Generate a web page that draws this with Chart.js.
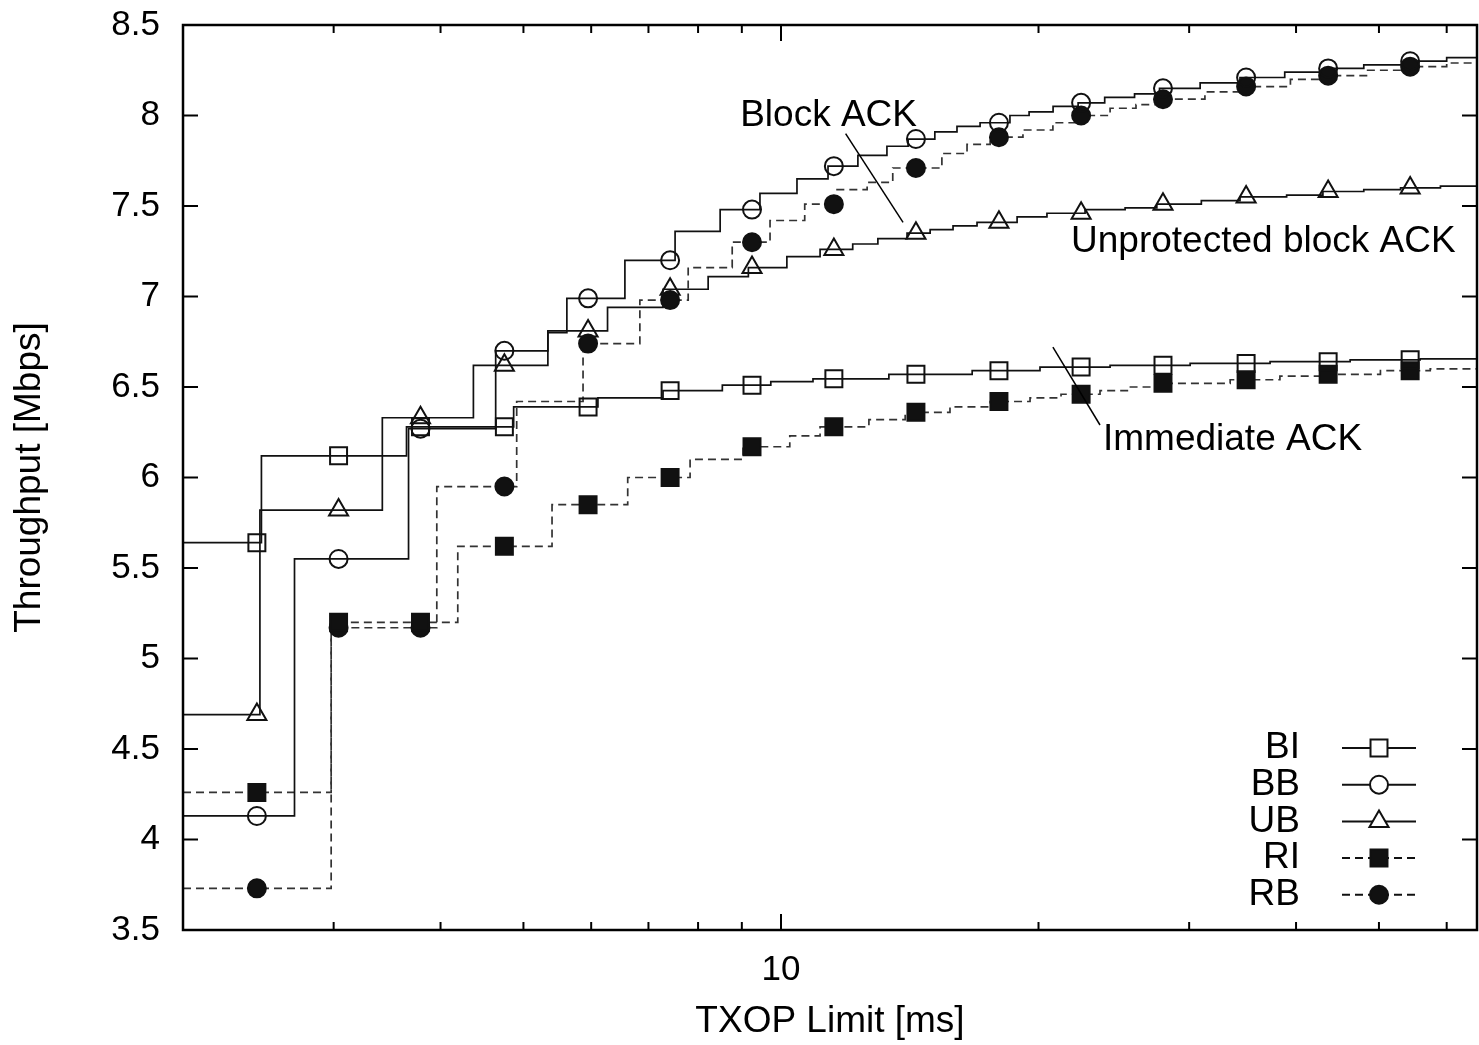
<!DOCTYPE html>
<html>
<head>
<meta charset="utf-8">
<script src="https://cdn.jsdelivr.net/npm/chart.js@4.4.0/dist/chart.umd.min.js"></script>
<style>
    html, body { margin: 0; padding: 0; background: #fff; }
    #wrap { width: 1479px; height: 1045px; }
</style>
</head>
<body>
<div id="wrap"><canvas id="chart" width="1479" height="1045"></canvas></div>
<script>
// each curve is a staircase: X = TXOP limit where a step starts [ms], Y = throughput on that step [Mbps]
var biX = [2, 2.47, 3.65, 4.87, 6.11, 7.28, 8.54, 9.73, 10.9, 13.37, 16.73, 20.08, 24.25, 30.08, 37.3, 46.27, 55.86, 65.1]
var biY = [5.64, 6.12, 6.28, 6.39, 6.44, 6.48, 6.51, 6.53, 6.545, 6.57, 6.59, 6.61, 6.62, 6.63, 6.64, 6.65, 6.655, 6.66]

var bbX = [2, 2.70, 3.67, 4.64, 5.34, 5.62, 6.57, 7.52, 8.49, 9.45, 10.44, 11.35, 12.30, 13.30, 14.08, 15.13, 16.06,
    17.09, 18.52, 19.50, 20.80, 22.25, 23.9, 25.9, 27.7, 30.9, 34.4, 38.8, 43.2, 48.0, 53.6, 60.0, 65.1]
var bbY = [4.13, 5.55, 6.27, 6.70, 6.80, 6.99, 7.20, 7.36, 7.48, 7.57, 7.65, 7.72, 7.78, 7.83, 7.87, 7.91, 7.94,
    7.96, 8.00, 8.02, 8.05, 8.07, 8.10, 8.12, 8.15, 8.18, 8.21, 8.24, 8.26, 8.28, 8.30, 8.32, 8.33]

var ubX = [2, 2.46, 3.42, 4.37, 5.34, 6.27, 7.28, 8.22, 9.16, 10.16, 11.11, 12.13, 12.98, 14.04, 14.94, 15.89,
    16.95, 18.88, 20.46, 22.67, 25.25, 27.5, 31.0, 34.4, 39.0, 43.0, 48.0, 53.0, 59.0, 65.1]
var ubY = [4.69, 5.82, 6.33, 6.62, 6.81, 6.94, 7.04, 7.11, 7.16, 7.22, 7.26, 7.29, 7.32, 7.35, 7.37, 7.39,
    7.41, 7.44, 7.46, 7.48, 7.49, 7.51, 7.53, 7.55, 7.56, 7.58, 7.59, 7.60, 7.61, 7.61]

var riX = [2, 2.98, 4.19, 5.40, 6.62, 7.83, 9.03, 10.24, 11.11, 12.67, 13.97, 15.76, 17.56, 19.55, 21.25, 23.6,
    25.5, 27.7, 33.5, 38.3, 42.7, 50.2, 57.4, 65.1]
var riY = [4.26, 5.20, 5.62, 5.85, 6.00, 6.10, 6.17, 6.23, 6.28, 6.32, 6.36, 6.39, 6.42, 6.44, 6.46, 6.48,
    6.50, 6.52, 6.54, 6.56, 6.57, 6.59, 6.60, 6.61]

var rbX = [2, 2.98, 3.96, 4.91, 5.87, 6.84, 7.79, 8.77, 9.71, 10.66, 11.63, 12.61, 13.51, 15.42, 16.50, 17.56,
    19.18, 20.79, 22.37, 24.25, 26.0, 27.7, 31.3, 34.8, 39.4, 43.2, 48.5, 53.6, 60.0, 65.1]
var rbY = [3.73, 5.17, 5.95, 6.42, 6.74, 6.98, 7.16, 7.30, 7.42, 7.51, 7.59, 7.63, 7.71, 7.79, 7.84, 7.88,
    7.92, 7.96, 8.00, 8.04, 8.06, 8.09, 8.13, 8.16, 8.20, 8.22, 8.25, 8.27, 8.29, 8.30]

// TXOP limits where the symbols sit
var markerX = [2.44, 3.04, 3.79, 4.75, 5.95, 7.42, 9.25, 11.53, 14.38, 17.98, 22.43, 27.96, 34.97, 43.61, 54.38]

var xTicks = [3, 4, 5, 6, 7, 8, 9, 10, 20, 30, 40, 50, 60]
var yTicks = [3.5, 4, 4.5, 5, 5.5, 6, 6.5, 7, 7.5, 8, 8.5]

var FONT = "'Liberation Sans', Arial, sans-serif"
var INK = '#111'

var series = [
    { name: 'BI', xs: biX, ys: biY, point: 'rect', radius: 12, filled: false, dash: [] },
    { name: 'BB', xs: bbX, ys: bbY, point: 'circle', radius: 9, filled: false, dash: [] },
    { name: 'UB', xs: ubX, ys: ubY, point: 'triangle', radius: 11, filled: false, dash: [] },
    { name: 'RI', xs: riX, ys: riY, point: 'rect', radius: 12, filled: true, dash: [8, 5] },
    { name: 'RB', xs: rbX, ys: rbY, point: 'circle', radius: 9, filled: true, dash: [8, 5] }
]

// value of a staircase at x
function stepAt(xs, ys, x) {
    var v = ys[0]
    for (var i = 0; i < xs.length; i++) {
        if (xs[i] <= x) v = ys[i]
    }
    return v
}

var markerSets = series.map(function (s) {
    return {
        label: s.name + ' symbols',
        data: markerX.map(function (x) { return { x: x, y: stepAt(s.xs, s.ys, x) } }),
        showLine: false,
        pointStyle: s.point,
        pointRadius: s.radius,
        pointBorderWidth: 2,
        pointBorderColor: INK,
        pointBackgroundColor: s.filled ? INK : 'rgba(0,0,0,0)',
        order: 1
    }
})
var lineSets = series.map(function (s) {
    return {
        label: s.name,
        data: s.xs.map(function (x, i) { return { x: x, y: s.ys[i] } }),
        stepped: 'before',
        borderColor: s.filled ? '#333' : INK,
        borderWidth: 1.7,
        borderDash: s.dash,
        pointRadius: 0,
        fill: false,
        order: 2
    }
})

// text labels with leader lines, placed in data coordinates
var notes = [
    { text: 'Block ACK', x: 8.96, y: 8.0, line: [11.9, 7.90, 13.89, 7.41] },
    { text: 'Unprotected block ACK', x: 21.83, y: 7.30 },
    { text: 'Immediate ACK', x: 23.79, y: 6.21, line: [20.79, 6.72, 23.6, 6.29] }
]

function seg(ctx, x1, y1, x2, y2) {
    ctx.beginPath()
    ctx.moveTo(x1, y1)
    ctx.lineTo(x2, y2)
    ctx.stroke()
}

var decorations = {
    id: 'decorations',
    afterDatasetsDraw: function (chart) {
        var ctx = chart.ctx
        var ca = chart.chartArea
        var sx = chart.scales.x
        var sy = chart.scales.y
        ctx.save()
        ctx.strokeStyle = '#000'
        ctx.fillStyle = '#000'

        // inward ticks on all four sides
        ctx.lineWidth = 2
        xTicks.forEach(function (v) {
            var px = sx.getPixelForValue(v)
            var len = v === 10 ? 16 : 8
            seg(ctx, px, ca.bottom, px, ca.bottom - len)
            seg(ctx, px, ca.top, px, ca.top + len)
        })
        yTicks.forEach(function (v) {
            var py = sy.getPixelForValue(v)
            seg(ctx, ca.left, py, ca.left + 15, py)
            seg(ctx, ca.right, py, ca.right - 15, py)
        })
        ctx.lineWidth = 2.5
        ctx.strokeRect(ca.left, ca.top, ca.right - ca.left, ca.bottom - ca.top)

        // annotations
        ctx.font = '37px ' + FONT
        ctx.textAlign = 'left'
        ctx.textBaseline = 'middle'
        ctx.lineWidth = 1.5
        notes.forEach(function (n) {
            ctx.fillText(n.text, sx.getPixelForValue(n.x), sy.getPixelForValue(n.y))
            if (n.line) {
                seg(ctx, sx.getPixelForValue(n.line[0]), sy.getPixelForValue(n.line[1]),
                    sx.getPixelForValue(n.line[2]), sy.getPixelForValue(n.line[3]))
            }
        })

        // key, bottom right inside the frame
        ctx.textAlign = 'right'
        series.forEach(function (s, i) {
            var y = ca.bottom - 182 + i * 36.7
            var mid = ca.right - 98
            ctx.fillStyle = '#000'
            ctx.fillText(s.name, ca.right - 177, y)
            ctx.strokeStyle = INK
            ctx.lineWidth = 2
            ctx.setLineDash(s.dash)
            seg(ctx, ca.right - 135, y, ca.right - 61, y)
            ctx.setLineDash([])
            ctx.fillStyle = s.filled ? INK : '#fff'
            Chart.helpers.drawPoint(ctx, { pointStyle: s.point, radius: s.radius, rotation: 0, borderWidth: 2 }, mid, y)
        })

        // axis titles
        ctx.fillStyle = '#000'
        ctx.font = '37px ' + FONT
        ctx.textAlign = 'center'
        ctx.fillText('TXOP Limit [ms]', (ca.left + ca.right) / 2, 1022)
        ctx.translate(30, (ca.top + ca.bottom) / 2)
        ctx.rotate(-Math.PI / 2)
        ctx.fillText('Throughput [Mbps]', 0, 0)
        ctx.restore()
    }
}

var tickFont = { family: FONT, size: 35 }

new Chart(document.getElementById('chart'), {
    type: 'line',
    data: { datasets: markerSets.concat(lineSets) },
    options: {
        responsive: false,
        animation: false,
        layout: { autoPadding: false, padding: { top: 25, right: 2, left: 0, bottom: 0 } },
        plugins: { legend: { display: false }, tooltip: { enabled: false } },
        scales: {
            x: {
                type: 'logarithmic',
                min: 2,
                max: 65.1,
                afterBuildTicks: function (scale) {
                    scale.ticks = xTicks.map(function (v) { return { value: v } })
                },
                afterFit: function (scale) {
                    scale.height = 115
                    scale.paddingLeft = 0
                    scale.paddingRight = 0
                },
                grid: { display: false, drawTicks: false },
                border: { display: false },
                ticks: {
                    autoSkip: false,
                    maxRotation: 0,
                    padding: 19,
                    color: '#000',
                    font: tickFont,
                    callback: function (v) { return v === 10 ? '10' : '' }
                }
            },
            y: {
                type: 'linear',
                min: 3.5,
                max: 8.5,
                afterBuildTicks: function (scale) {
                    scale.ticks = yTicks.map(function (v) { return { value: v } })
                },
                afterFit: function (scale) {
                    scale.width = 183
                    scale.paddingTop = 0
                    scale.paddingBottom = 0
                },
                grid: { display: false, drawTicks: false },
                border: { display: false },
                ticks: {
                    padding: 23,
                    color: '#000',
                    font: tickFont,
                    callback: function (v) { return String(v) }
                }
            }
        }
    },
    plugins: [decorations]
})
</script>
</body>
</html>
